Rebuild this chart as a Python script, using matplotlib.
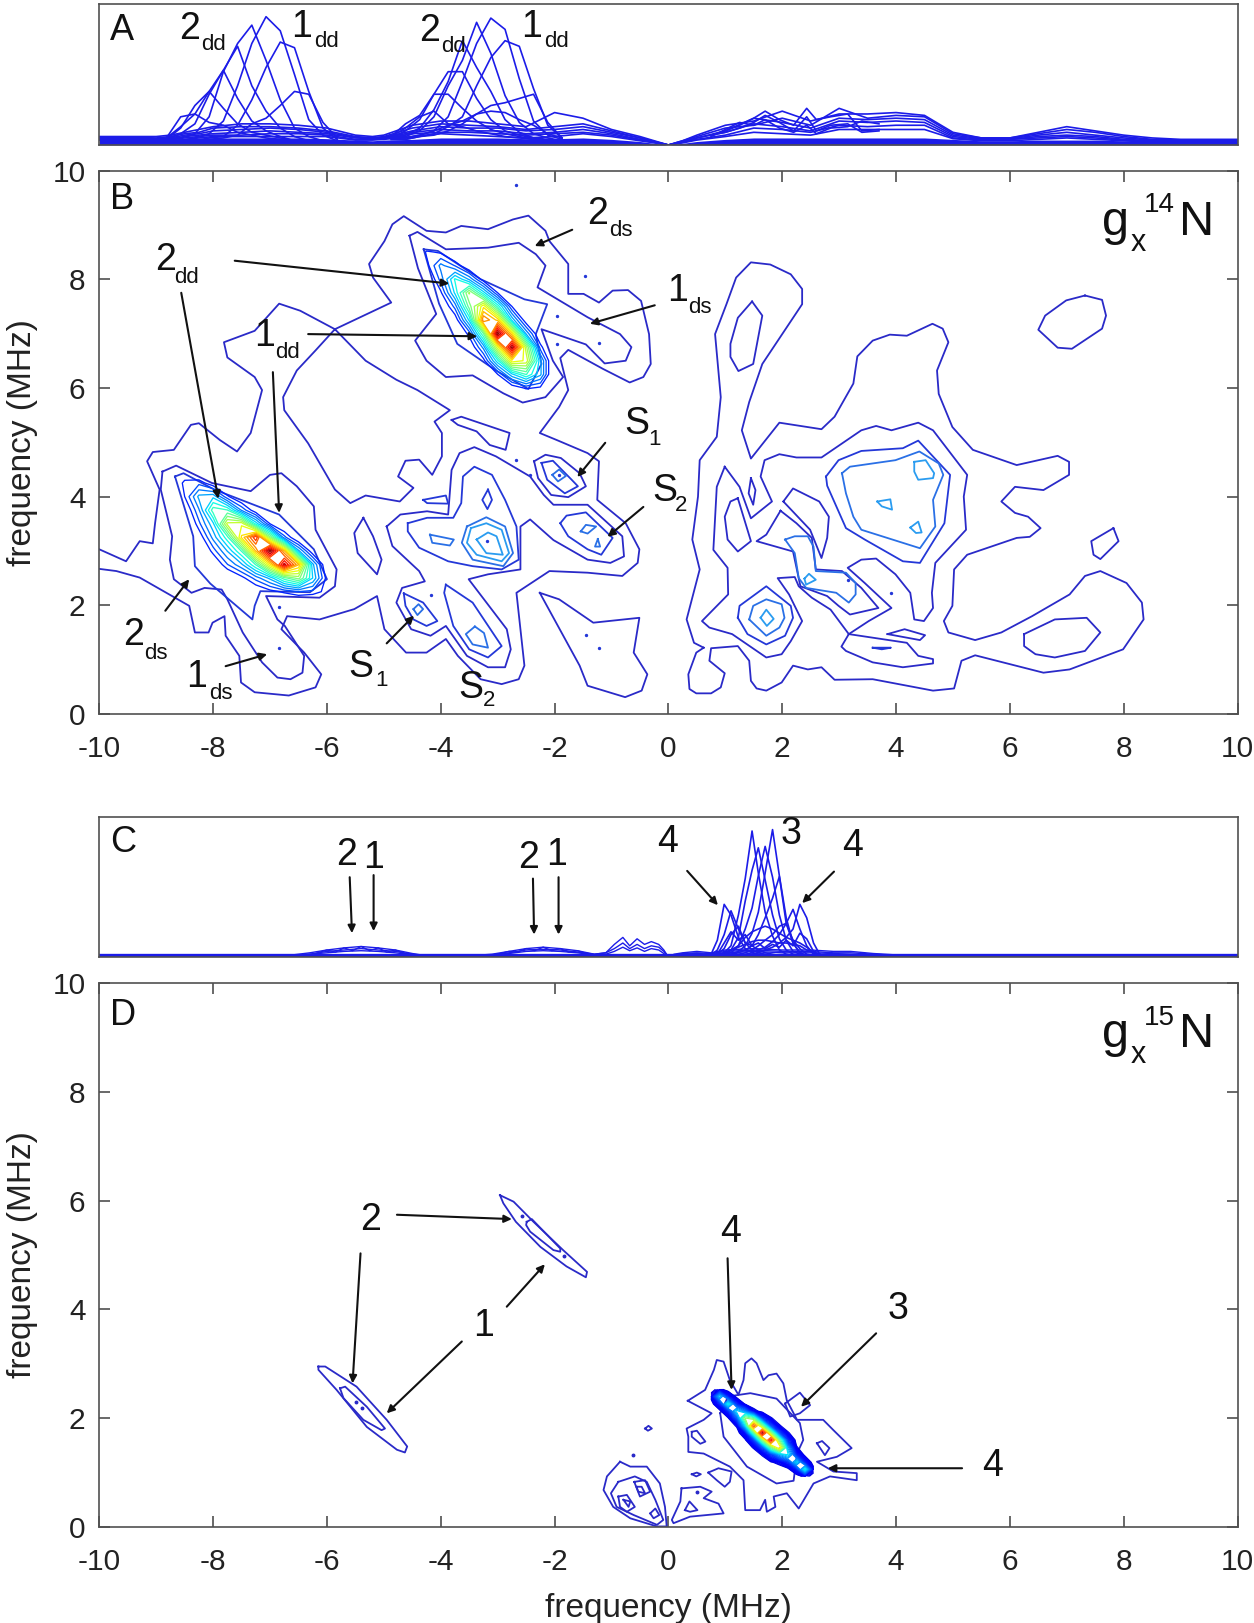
import matplotlib
matplotlib.use("Agg")
import matplotlib.pyplot as plt
import numpy as np

plt.rcParams['font.family'] = ['Liberation Sans', 'DejaVu Sans']
plt.rcParams['axes.unicode_minus'] = False

LV1 = "#2a2ac8"
LV2 = "#2438d8"
LV3 = "#2a70e6"
LV4 = "#2a9cf0"
LINE_BLUE = "#1c1ce8"

### PANEL A : projection lines (x in MHz, arbitrary height) ###

xa_peak1 = [-8.82, -8.57, -8.32, -8.07, -7.82, -7.57, -7.32, -7.07, -6.82, -6.57, -6.32, -6.07, -5.82]
a_peak1 = [
    [0.03, 0.03, 0.05, 0.08, 0.17, 0.42, 0.72, 0.91, 0.81, 0.50, 0.18, 0.07, 0.03],
    [0.03, 0.05, 0.08, 0.20, 0.52, 0.72, 0.85, 0.60, 0.32, 0.12, 0.06, 0.03, 0.02],
    [0.04, 0.08, 0.15, 0.36, 0.53, 0.70, 0.42, 0.24, 0.12, 0.06, 0.03, 0.02, 0.02],
    [0.04, 0.12, 0.28, 0.38, 0.53, 0.33, 0.17, 0.10, 0.06, 0.03, 0.03, 0.02, 0.02],
    [0.05, 0.20, 0.22, 0.38, 0.26, 0.15, 0.09, 0.07, 0.05, 0.03, 0.02, 0.02, 0.02],
    [0.05, 0.13, 0.22, 0.16, 0.14, 0.09, 0.07, 0.05, 0.04, 0.03, 0.02, 0.02, 0.02],
    [0.02, 0.02, 0.03, 0.05, 0.06, 0.14, 0.32, 0.55, 0.73, 0.69, 0.38, 0.12, 0.04],
    [0.02, 0.02, 0.03, 0.04, 0.05, 0.07, 0.15, 0.19, 0.28, 0.38, 0.36, 0.16, 0.05],
]

xa_peak2 = [-4.87, -4.62, -4.37, -4.12, -3.87, -3.62, -3.37, -3.12, -2.87, -2.62, -2.37, -2.12, -1.87]
a_peak2 = [
    [0.05, 0.05, 0.07, 0.10, 0.20, 0.45, 0.72, 0.90, 0.82, 0.47, 0.17, 0.07, 0.04],
    [0.05, 0.06, 0.10, 0.20, 0.42, 0.60, 0.87, 0.65, 0.35, 0.16, 0.08, 0.05, 0.03],
    [0.05, 0.07, 0.12, 0.25, 0.45, 0.74, 0.55, 0.38, 0.18, 0.09, 0.05, 0.04, 0.03],
    [0.05, 0.10, 0.18, 0.36, 0.52, 0.52, 0.33, 0.18, 0.10, 0.07, 0.05, 0.03, 0.03],
    [0.06, 0.15, 0.21, 0.36, 0.36, 0.26, 0.17, 0.11, 0.08, 0.06, 0.04, 0.03, 0.03],
    [0.06, 0.12, 0.20, 0.24, 0.15, 0.13, 0.10, 0.08, 0.06, 0.05, 0.04, 0.03, 0.03],
    [0.04, 0.04, 0.06, 0.08, 0.13, 0.20, 0.42, 0.62, 0.74, 0.70, 0.40, 0.14, 0.05],
    [0.04, 0.04, 0.06, 0.07, 0.10, 0.15, 0.22, 0.28, 0.30, 0.33, 0.36, 0.16, 0.05],
    [0.05, 0.05, 0.07, 0.10, 0.14, 0.17, 0.22, 0.24, 0.23, 0.18, 0.14, 0.08, 0.05],
]

xa_low = [-10, -9.5, -9, -8.75, -8.5, -8.25, -8, -7.5, -7, -6.5, -6, -5.5, -5.2, -5, -4.5, -4, -3.5, -3, -2.5,
          -2, -1.5, -1, -0.5, -0.25, 0, 0.25, 0.5, 1, 1.5, 2, 2.5, 3, 3.5, 4, 4.5, 5, 5.5, 6, 6.5, 7, 7.5, 8, 8.5, 9, 10]
a_low = [
    [.06, .06, .06, .07, .09, .11, .13, .15, .15, .14, .12, .07, .06, .07, .14, .17, .17, .15, .13, .23, .19, .11, .06, .03, .00, .03, .07, .14, .17, .24, .17, .22, .22, .23, .21, .09, .05, .05, .09, .13, .10, .07, .05, .04, .04],
    [.055, .055, .05, .06, .08, .09, .12, .13, .13, .12, .10, .06, .05, .06, .12, .15, .14, .13, .11, .13, .15, .10, .05, .025, .00, .03, .06, .12, .14, .19, .14, .26, .19, .21, .20, .08, .05, .05, .08, .11, .09, .06, .04, .035, .035],
    [.05, .05, .045, .05, .07, .08, .10, .11, .12, .11, .09, .055, .05, .055, .10, .13, .12, .12, .10, .11, .13, .09, .05, .025, .00, .025, .05, .10, .19, .16, .12, .19, .18, .19, .18, .07, .045, .045, .07, .09, .07, .05, .035, .03, .03],
    [.045, .045, .04, .045, .06, .07, .08, .09, .10, .09, .08, .05, .045, .05, .09, .11, .10, .10, .08, .09, .11, .08, .04, .02, .00, .02, .05, .09, .15, .13, .10, .17, .16, .17, .16, .06, .04, .04, .06, .07, .06, .04, .03, .025, .025],
    [.04, .04, .035, .04, .05, .06, .07, .07, .08, .08, .07, .04, .04, .045, .08, .09, .09, .08, .07, .08, .09, .07, .035, .02, .00, .02, .04, .07, .12, .11, .09, .14, .13, .14, .14, .05, .035, .04, .05, .06, .05, .035, .025, .02, .02],
    [.035, .035, .03, .03, .04, .05, .06, .06, .06, .06, .06, .035, .035, .04, .06, .08, .07, .06, .05, .06, .08, .06, .03, .015, .00, .015, .035, .06, .09, .08, .07, .11, .11, .11, .11, .045, .03, .03, .04, .05, .04, .03, .02, .02, .02],
]
a_base = [.05, .05, .045, .045, .045, .05, .05, .05, .05, .05, .045, .035, .03, .035, .04, .05, .05, .05, .045, .045, .05, .04, .025, .012, .00, .012, .025, .04, .05, .05, .05, .05, .05, .05, .05, .04, .03, .03, .035, .035, .035, .03, .03, .03, .03]

xa_jag = [0.75, 1, 1.25, 1.5, 1.7, 1.95, 2.2, 2.43, 2.6, 2.85, 3.15, 3.4, 3.7]
a_jag = [
    [0.07, 0.10, 0.14, 0.19, 0.24, 0.18, 0.14, 0.26, 0.18, 0.20, 0.22, 0.10, 0.11],
    [0.07, 0.09, 0.12, 0.16, 0.21, 0.16, 0.10, 0.20, 0.10, 0.14, 0.15, 0.09, 0.10],
    [0.06, 0.11, 0.16, 0.14, 0.18, 0.12, 0.09, 0.14, 0.08, 0.12, 0.13, 0.17, 0.15],
]

### PANEL C : projection lines ###

xc_peak = [0.74, 0.86, 0.98, 1.10, 1.23, 1.35, 1.47, 1.58, 1.70, 1.83, 1.95, 2.07, 2.19, 2.31, 2.43, 2.55, 2.67]
c_peak = [
    [0.01, 0.12, 0.376, 0.30, 0.14, 0.06, 0.03, 0.02, 0.01, 0.01, 0.01, 0.01, 0.01, 0.01, 0.01, 0.01, 0.01],
    [0.01, 0.05, 0.16, 0.33, 0.20, 0.10, 0.05, 0.03, 0.02, 0.01, 0.01, 0.01, 0.01, 0.01, 0.01, 0.01, 0.01],
    [0.01, 0.02, 0.06, 0.16, 0.22, 0.10, 0.08, 0.05, 0.03, 0.02, 0.01, 0.01, 0.01, 0.01, 0.01, 0.01, 0.01],
    [0.01, 0.01, 0.03, 0.08, 0.30, 0.56, 0.90, 0.60, 0.32, 0.15, 0.05, 0.02, 0.01, 0.01, 0.01, 0.01, 0.01],
    [0.01, 0.01, 0.02, 0.05, 0.14, 0.40, 0.62, 0.78, 0.55, 0.30, 0.13, 0.05, 0.02, 0.01, 0.01, 0.01, 0.01],
    [0.01, 0.01, 0.02, 0.03, 0.08, 0.20, 0.35, 0.58, 0.79, 0.57, 0.30, 0.12, 0.04, 0.02, 0.01, 0.01, 0.01],
    [0.01, 0.01, 0.01, 0.02, 0.04, 0.08, 0.17, 0.32, 0.60, 0.91, 0.58, 0.28, 0.10, 0.03, 0.01, 0.01, 0.01],
    [0.01, 0.01, 0.01, 0.02, 0.03, 0.05, 0.08, 0.16, 0.28, 0.42, 0.575, 0.24, 0.10, 0.03, 0.01, 0.01, 0.01],
    [0.01, 0.01, 0.01, 0.01, 0.02, 0.03, 0.05, 0.08, 0.12, 0.16, 0.22, 0.24, 0.12, 0.06, 0.02, 0.01, 0.01],
    [0.01, 0.01, 0.01, 0.01, 0.01, 0.02, 0.03, 0.05, 0.07, 0.11, 0.16, 0.24, 0.34, 0.20, 0.08, 0.02, 0.01],
    [0.01, 0.01, 0.01, 0.01, 0.01, 0.01, 0.02, 0.03, 0.05, 0.07, 0.10, 0.14, 0.20, 0.376, 0.28, 0.10, 0.01],
    [0.01, 0.01, 0.02, 0.05, 0.08, 0.14, 0.18, 0.20, 0.22, 0.20, 0.17, 0.14, 0.12, 0.10, 0.07, 0.03, 0.01],
    [0.01, 0.02, 0.03, 0.05, 0.07, 0.09, 0.11, 0.12, 0.12, 0.11, 0.10, 0.10, 0.09, 0.08, 0.05, 0.03, 0.02],
    [0.01, 0.02, 0.10, 0.18, 0.12, 0.16, 0.08, 0.10, 0.06, 0.09, 0.07, 0.12, 0.08, 0.17, 0.13, 0.04, 0.01],
]

xc_low = [-10, -7, -6.6, -6.3, -6, -5.7, -5.4, -5.1, -4.8, -4.5, -4.3, -4, -3.5, -3.1, -2.8, -2.5, -2.2, -1.9, -1.6, -1.3,
          -1.1, -0.95, -0.8, -0.68, -0.55, -0.42, -0.3, -0.17, -0.08, 0, 0.1, 0.25, 0.5, 0.75, 1, 1.5, 2, 2.5, 2.9, 3.2, 3.6, 4, 10]
c_low = [
    [.008, .008, .015, .03, .05, .065, .075, .065, .05, .025, .012, .008, .008, .02, .04, .06, .07, .06, .045, .02, .03, .09, .14, .08, .13, .09, .11, .09, .05, .0, .02, .03, .04, .03, .05, .06, .05, .05, .04, .04, .025, .015, .008],
    [.008, .008, .012, .02, .04, .05, .06, .05, .04, .02, .012, .008, .008, .015, .03, .05, .055, .05, .035, .02, .03, .06, .10, .06, .09, .06, .08, .07, .04, .0, .015, .025, .03, .025, .04, .05, .04, .04, .03, .03, .02, .012, .008],
    [.006, .006, .01, .02, .03, .04, .045, .04, .03, .015, .01, .006, .006, .012, .025, .04, .045, .04, .03, .015, .02, .04, .07, .045, .065, .04, .06, .05, .025, .0, .012, .02, .025, .02, .03, .04, .03, .03, .025, .02, .015, .01, .006],
]
xc_zig1 = [-6.2, -6.0, -5.85, -5.7, -5.55, -5.4, -5.25, -5.1, -4.95, -4.8, -4.6]
c_zig1 = [.025, .05, .035, .065, .045, .075, .045, .065, .035, .05, .02]
xc_zig2 = [-3.0, -2.8, -2.65, -2.5, -2.35, -2.2, -2.05, -1.9, -1.75, -1.6, -1.4]
c_zig2 = [.02, .04, .035, .06, .045, .07, .045, .06, .035, .045, .02]

### PANEL B : typed matrices around the two strong peaks ###

xb_left = [-9, -8.75, -8.5, -8.25, -8, -7.75, -7.5, -7.25, -7, -6.75, -6.5, -6.25, -6, -5.75, -5.5]
yb_left = [4.75, 4.5, 4.25, 4.0, 3.75, 3.5, 3.25, 3.0, 2.75, 2.5, 2.25, 2.0, 1.75]
zb_left = [
    [0, 0, .01, 0, 0, 0, 0, 0, 0, 0, 0, 0, 0, 0, 0],
    [0, .03, .08, .06, .03, .01, 0, 0, 0, 0, 0, 0, 0, 0, 0],
    [0, .06, .18, .19, .12, .06, .03, .02, .01, 0, 0, 0, 0, 0, 0],
    [0, .03, .16, .30, .32, .17, .09, .05, .03, .02, .01, 0, 0, 0, 0],
    [0, .01, .10, .24, .44, .42, .24, .12, .07, .04, .02, .01, 0, 0, 0],
    [0, 0, .05, .19, .32, .60, .62, .36, .16, .08, .04, .02, .01, 0, 0],
    [0, 0, .03, .12, .26, .40, .68, .88, .52, .22, .09, .04, .02, .01, 0],
    [0, 0, .01, .06, .18, .29, .42, .72, 1.0, .72, .30, .12, .05, .02, .01],
    [0, 0, 0, .03, .09, .20, .28, .42, .66, .95, .72, .30, .10, .03, .01],
    [0, 0, 0, .01, .04, .08, .14, .22, .30, .44, .52, .33, .14, .03, .01],
    [0, 0, 0, 0, .01, .03, .06, .10, .14, .17, .20, .19, .14, .05, .01],
    [0, 0, 0, 0, 0, .01, .02, .03, .04, .05, .05, .04, .02, 0, 0],
    [0, 0, 0, 0, 0, 0, 0, 0, 0, 0, 0, 0, 0, 0, 0],
]

xb_top = [-4.75, -4.5, -4.25, -4, -3.75, -3.5, -3.25, -3, -2.75, -2.5, -2.25, -2, -1.75]
yb_top = [8.75, 8.5, 8.25, 8.0, 7.75, 7.5, 7.25, 7.0, 6.75, 6.5, 6.25, 6.0, 5.75]
zb_top = [
    [0, .01, .03, .02, 0, 0, 0, 0, 0, 0, 0, 0, 0],
    [0, .04, .17, .15, .07, .03, .01, 0, 0, 0, 0, 0, 0],
    [0, .03, .14, .26, .20, .10, .05, .02, .01, 0, 0, 0, 0],
    [0, .01, .08, .22, .38, .28, .13, .06, .03, .01, 0, 0, 0],
    [0, 0, .04, .15, .34, .55, .35, .16, .07, .03, .01, 0, 0],
    [0, 0, .02, .08, .22, .48, .66, .40, .16, .06, .02, .01, 0],
    [0, 0, .01, .03, .12, .34, .80, .70, .32, .12, .04, .01, 0],
    [0, 0, 0, .02, .06, .18, .46, 1.0, .68, .28, .09, .02, .01],
    [0, 0, 0, .01, .03, .10, .26, .62, .98, .56, .18, .04, .01],
    [0, 0, 0, 0, .02, .05, .14, .36, .66, .62, .30, .06, .01],
    [0, 0, 0, 0, .01, .02, .06, .16, .32, .42, .30, .06, .01],
    [0, 0, 0, 0, 0, .01, .02, .06, .12, .17, .15, .03, 0],
    [0, 0, 0, 0, 0, 0, 0, .01, .02, .03, .02, 0, 0],
]

xd_peak = [0.75, 0.9, 1.05, 1.2, 1.35, 1.5, 1.65, 1.8, 1.95, 2.1, 2.25, 2.4, 2.55]
yd_peak = [2.53, 2.40, 2.26, 2.13, 2.0, 1.86, 1.73, 1.60, 1.46, 1.33, 1.19, 1.06, 0.93]
zd_peak = [
    [.02, .05, .01, 0, 0, 0, 0, 0, 0, 0, 0, 0, 0],
    [.05, .28, .10, .02, .01, 0, 0, 0, 0, 0, 0, 0, 0],
    [.01, .10, .34, .11, .03, .01, 0, 0, 0, 0, 0, 0, 0],
    [0, .02, .11, .30, .20, .05, .02, .005, 0, 0, 0, 0, 0],
    [0, .01, .03, .16, .50, .42, .12, .04, .012, 0, 0, 0, 0],
    [0, 0, .01, .04, .30, .85, .48, .14, .04, .012, 0, 0, 0],
    [0, 0, 0, .015, .08, .42, 1.0, .50, .14, .04, .01, 0, 0],
    [0, 0, 0, .005, .03, .13, .48, .95, .44, .11, .02, .005, 0],
    [0, 0, 0, 0, .01, .04, .14, .44, .70, .24, .04, .01, 0],
    [0, 0, 0, 0, 0, .01, .04, .12, .24, .32, .11, .02, 0],
    [0, 0, 0, 0, 0, 0, .01, .03, .05, .11, .30, .10, .01],
    [0, 0, 0, 0, 0, 0, 0, .005, .01, .02, .10, .34, .05],
    [0, 0, 0, 0, 0, 0, 0, 0, 0, 0, .01, .05, .02],
]

### PANEL B : contour outlines ###

b_big = [(-10, 3.03), (-9.53, 2.81), (-9.29, 3.18), (-9.06, 3.14), (-9.02, 3.51), (-8.94, 4.13), (-9.16, 4.65), (-9.06, 4.82),
         (-8.69, 4.86), (-8.39, 5.32), (-8.25, 5.35), (-7.88, 5.04), (-7.58, 4.83), (-7.34, 5.17), (-7.14, 5.96), (-7.27, 6.2),
         (-7.75, 6.56), (-7.81, 6.84), (-7.27, 7.05), (-6.84, 7.55), (-6.47, 7.42), (-5.86, 7.08), (-6.2, 6.69), (-6.53, 6.32),
         (-6.77, 5.83), (-6.75, 5.59), (-6.33, 4.98), (-5.86, 4.13), (-5.59, 3.88), (-5.32, 4.02), (-4.72, 3.91), (-4.48, 4.16),
         (-4.75, 4.37), (-4.62, 4.66), (-4.38, 4.68), (-4.15, 4.4), (-3.98, 4.74), (-3.98, 5.17), (-4.11, 5.38), (-3.84, 5.59),
         (-4.41, 5.96), (-4.78, 6.15), (-5.32, 6.5), (-5.86, 7.08), (-4.87, 7.57), (-5.19, 8.03), (-5.26, 8.28), (-4.99, 8.7),
         (-4.85, 9.01), (-4.65, 9.16), (-4.25, 8.89), (-3.91, 8.86), (-3.64, 8.98), (-3.17, 8.92), (-2.73, 9.1), (-2.46, 9.17),
         (-2.16, 8.89), (-2.09, 8.7), (-1.76, 8.28), (-1.76, 7.73), (-1.49, 7.73), (-1.22, 7.57), (-0.98, 7.79), (-0.71, 7.8),
         (-0.48, 7.6), (-0.34, 6.99), (-0.31, 6.44), (-0.44, 6.2), (-0.68, 6.1), (-1.15, 6.35), (-1.76, 6.7), (-1.9, 6.55),
         (-1.76, 5.96), (-1.92, 5.65), (-2.26, 5.17), (-1.96, 5.04), (-1.42, 4.8), (-1.22, 4.65), (-1.25, 3.94), (-0.75, 3.51),
         (-0.51, 3.03), (-0.54, 2.78), (-0.81, 2.54), (-1.42, 2.6), (-2.09, 2.63), (-2.67, 2.23), (-2.6, 1.56), (-2.53, 0.89),
         (-2.63, 0.64), (-2.93, 0.55), (-3.3, 0.64), (-3.7, 1.07), (-3.91, 1.38), (-4.25, 1.13), (-4.61, 1.13), (-4.99, 1.56),
         (-5.12, 2.17), (-5.52, 1.93), (-6.13, 1.74), (-6.7, 1.8), (-6.8, 1.56), (-6.4, 1.13), (-6.1, 0.73), (-6.2, 0.49),
         (-6.67, 0.34), (-7.27, 0.4), (-7.51, 0.58), (-7.54, 1.07), (-7.78, 1.44), (-7.8, 1.8), (-8.01, 1.68), (-8.08, 1.5),
         (-8.32, 1.5), (-8.42, 1.99), (-9.29, 2.51), (-9.7, 2.63), (-10, 2.67)]

b_lv1 = [
    [(-4.55, 8.8), (-4.41, 8.87), (-3.91, 8.55), (-3.17, 8.58), (-2.63, 8.67), (-2.33, 8.46), (-2.16, 8.25), (-2.3, 7.85),
     (-1.42, 7.3), (-0.85, 6.99), (-0.65, 6.75), (-0.75, 6.5), (-1.12, 6.45), (-1.45, 6.8), (-2.23, 7.08), (-2.03, 6.5),
     (-1.85, 6.2), (-2.16, 5.83), (-2.56, 5.73), (-2.9, 5.9), (-3.44, 6.23), (-3.91, 6.2), (-4.25, 6.5), (-4.45, 6.87),
     (-4.08, 7.36), (-4.4, 8.2), (-4.55, 8.8)],
    [(-8.89, 4.46), (-8.65, 4.57), (-8.02, 4.25), (-7.34, 4.1), (-7.0, 4.4), (-6.8, 4.43), (-6.53, 4.19), (-6.23, 3.82),
     (-6.2, 3.39), (-5.83, 2.66), (-5.86, 2.35), (-6.13, 2.14), (-7.07, 2.17), (-6.87, 1.74), (-6.74, 1.62), (-6.4, 1.07),
     (-6.43, 0.76), (-6.64, 0.64), (-6.87, 0.67), (-7.14, 0.95), (-7.48, 1.5), (-7.75, 2.11), (-7.85, 2.29), (-8.15, 2.32),
     (-8.38, 2.23), (-8.69, 2.48), (-8.76, 2.84), (-8.72, 3.27), (-8.92, 4.13), (-8.89, 4.46)],
    [(-4.95, 3.45), (-4.71, 3.67), (-4.24, 3.73), (-3.87, 3.67), (-3.81, 4.49), (-3.67, 4.8), (-3.41, 4.91), (-3.03, 4.74),
     (-2.43, 4.37), (-2.19, 4.03), (-2.02, 3.85), (-1.42, 3.85), (-0.81, 3.27), (-0.78, 2.9), (-1.02, 2.78), (-1.42, 2.84),
     (-2.02, 3.2), (-2.43, 3.58), (-2.6, 3.45), (-2.6, 2.66), (-3.17, 2.57), (-3.51, 2.48), (-2.84, 1.56), (-2.77, 1.19),
     (-2.87, 0.86), (-3.17, 0.86), (-3.54, 1.07), (-3.91, 1.62), (-4.18, 1.44), (-4.52, 1.56), (-4.78, 2.05), (-4.68, 2.32),
     (-4.28, 2.44), (-4.38, 2.63), (-4.85, 3.09), (-4.95, 3.45)],
    [(-3.81, 5.41), (-3.64, 5.47), (-2.79, 5.17), (-2.86, 4.86), (-3.14, 4.95), (-3.37, 5.2), (-3.7, 5.32), (-3.81, 5.41)],
    [(-5.36, 3.61), (-5.52, 3.33), (-5.46, 2.96), (-5.12, 2.57), (-5.04, 2.84), (-5.19, 3.27), (-5.36, 3.61)],
    [(-2.36, 4.65), (-2.16, 4.77), (-1.89, 4.71), (-1.56, 4.43), (-1.45, 4.19), (-1.76, 3.99), (-2.06, 4.03), (-2.29, 4.34), (-2.36, 4.65)],
    [(-2.26, 2.23), (-1.92, 2.11), (-1.32, 1.68), (-0.51, 1.77), (-0.61, 1.13), (-0.37, 0.73), (-0.47, 0.43), (-0.76, 0.31),
     (-1.42, 0.52), (-1.56, 0.89), (-2.26, 2.23)],
    # right half
    [(0.62, 1.22), (0.49, 1.13), (0.35, 0.73), (0.37, 0.46), (0.49, 0.38), (0.75, 0.38), (0.92, 0.49), (0.99, 0.75), (0.72, 0.98),
     (0.75, 1.21), (1.22, 1.25), (1.42, 0.98), (1.45, 0.61), (1.55, 0.47), (1.72, 0.43), (1.99, 0.58), (2.19, 0.89), (2.45, 0.82),
     (2.69, 0.86), (2.92, 0.63), (3.59, 0.64), (4.65, 0.43), (5.02, 0.47), (5.15, 0.98), (5.39, 1.08), (6.59, 0.76), (7.05, 0.82),
     (7.99, 1.19), (8.35, 1.74), (8.32, 2.05), (8.05, 2.41), (7.59, 2.63), (7.32, 2.54), (7.05, 2.2), (6.39, 1.8), (5.85, 1.5),
     (5.39, 1.36), (4.92, 1.5), (4.84, 1.71), (4.99, 1.99), (5.02, 2.66), (5.25, 2.93), (6.12, 3.24), (6.35, 3.26), (6.54, 3.42),
     (6.32, 3.63), (6.09, 3.7), (5.85, 3.91), (6.09, 4.18), (6.59, 4.12), (7.04, 4.4), (7.04, 4.64), (6.84, 4.75), (6.12, 4.58),
     (5.35, 4.86), (4.99, 5.28), (4.75, 5.89), (4.72, 6.32), (4.92, 6.84), (4.82, 7.09), (4.64, 7.18), (4.19, 6.96), (3.89, 6.98),
     (3.59, 6.87), (3.32, 6.58), (3.25, 6.08), (2.92, 5.47), (2.69, 5.24), (1.95, 5.36), (1.45, 4.7), (1.29, 5.22), (1.42, 5.74),
     (1.65, 6.44), (2.35, 7.54), (2.35, 7.82), (2.15, 8.09), (1.79, 8.27), (1.45, 8.31), (1.19, 8.03), (1.02, 7.54), (0.82, 6.99),
     (0.92, 5.83), (0.85, 5.1), (0.55, 4.67), (0.52, 4.0), (0.42, 3.21), (0.55, 2.66), (0.32, 1.74), (0.45, 1.31), (0.62, 1.22)],
    [(1.47, 7.59), (1.65, 7.33), (1.49, 6.44), (1.23, 6.31), (1.09, 6.57), (1.09, 6.81), (1.22, 7.29), (1.47, 7.59)],
    [(7.32, 7.7), (7.62, 7.62), (7.69, 7.33), (7.62, 7.09), (7.09, 6.72), (6.84, 6.74), (6.5, 7.07), (6.62, 7.33), (6.99, 7.61), (7.32, 7.7)],
    [(7.82, 3.42), (7.91, 3.18), (7.59, 2.85), (7.47, 2.93), (7.43, 3.18), (7.82, 3.42)],
    [(6.25, 1.47), (6.79, 1.74), (7.35, 1.77), (7.59, 1.5), (7.32, 1.16), (6.79, 1.04), (6.45, 1.1), (6.25, 1.25), (6.25, 1.47)],
    [(0.99, 4.55), (1.25, 4.18), (1.45, 3.6), (1.82, 3.91), (1.62, 4.37), (1.69, 4.67), (1.95, 4.78), (2.25, 4.72), (2.69, 4.72),
     (3.39, 5.22), (3.65, 5.3), (3.92, 5.22), (4.39, 5.36), (4.65, 5.22), (5.25, 4.4), (5.19, 4.0), (5.23, 3.39), (4.69, 2.78),
     (4.63, 2.23), (4.65, 1.95), (4.49, 1.71), (4.32, 1.74), (4.25, 2.23), (3.99, 2.57), (3.65, 2.86), (3.39, 2.84), (3.15, 2.69),
     (3.45, 2.41), (3.92, 1.95), (3.52, 1.71), (3.17, 1.47), (2.85, 1.92), (2.52, 2.14), (2.29, 2.35), (2.22, 2.52), (1.92, 2.5),
     (2.12, 2.2), (2.35, 1.71), (2.15, 1.34), (1.99, 1.1), (1.72, 1.04), (1.12, 1.47), (0.72, 1.59), (0.59, 1.71), (1.05, 2.2),
     (1.04, 2.69), (0.79, 3.02), (0.85, 4.18), (0.99, 4.55)],
    [(3.17, 1.47), (4.19, 1.31), (4.39, 1.07), (4.65, 1.01), (4.65, 0.93), (4.12, 0.86), (3.59, 0.95), (3.12, 1.16), (3.04, 1.24), (3.17, 1.47)],
    [(3.85, 1.47), (4.15, 1.56), (4.51, 1.45), (4.42, 1.36), (3.85, 1.47)],
    [(1.22, 3.97), (1.09, 3.91), (0.99, 3.63), (1.04, 3.21), (1.22, 2.99), (1.45, 3.18), (1.22, 3.97)],
    [(1.45, 4.34), (1.53, 4.12), (1.49, 3.85), (1.41, 4.06), (1.45, 4.34)],
    [(2.02, 3.91), (2.19, 4.15), (2.65, 3.91), (2.82, 3.63), (2.79, 3.24), (2.69, 2.87), (2.49, 3.39), (2.02, 3.91)],
    [(1.97, 3.74), (2.25, 3.51), (2.52, 3.24), (2.59, 2.66), (3.05, 2.63), (3.39, 2.32), (3.69, 1.95), (3.19, 1.83), (2.99, 1.99),
     (2.79, 2.17), (2.32, 2.35), (2.19, 2.99), (1.55, 3.18), (1.72, 3.3), (1.97, 3.74)],
]

b_lv2 = [
    [(-4.3, 8.55), (-4.05, 8.52), (-3.3, 8.0), (-2.53, 7.63), (-2.13, 7.54), (-2.33, 6.99), (-2.23, 6.44), (-2.46, 5.98), (-3.03, 6.32),
     (-3.71, 6.81), (-4.03, 7.55), (-4.3, 8.55)],
    [(-8.67, 4.37), (-8.52, 4.43), (-7.98, 4.13), (-6.84, 3.67), (-6.23, 3.03), (-6.0, 2.48), (-6.3, 2.24), (-7.17, 2.26), (-7.27, 1.99),
     (-7.31, 1.74), (-8.05, 2.4), (-8.32, 2.72), (-8.35, 3.27), (-8.67, 4.37)],
    [(-4.58, 3.51), (-4.24, 3.61), (-3.78, 3.61), (-3.64, 3.88), (-3.61, 4.37), (-3.41, 4.55), (-3.1, 4.4), (-2.87, 3.94), (-2.67, 3.45),
     (-2.63, 2.84), (-2.93, 2.66), (-3.44, 2.72), (-3.87, 2.81), (-4.38, 3.06), (-4.58, 3.36), (-4.58, 3.51)],
    [(-4.31, 3.94), (-3.91, 4.02), (-3.87, 3.87), (-4.24, 3.88), (-4.31, 3.94)],
    [(-3.17, 4.13), (-3.1, 3.94), (-3.18, 3.77), (-3.27, 3.94), (-3.17, 4.13)],
    [(-1.9, 3.51), (-1.79, 3.65), (-1.45, 3.71), (-0.98, 3.24), (-1.18, 2.93), (-1.42, 3.03), (-1.76, 3.27), (-1.9, 3.51)],
    [(-2.23, 4.62), (-2.03, 4.66), (-1.7, 4.31), (-1.59, 4.19), (-1.82, 4.06), (-2.13, 4.31), (-2.23, 4.62)],
    [(-4.65, 2.22), (-4.31, 2.05), (-4.06, 1.71), (-4.25, 1.62), (-4.48, 1.74), (-4.62, 1.99), (-4.65, 2.22)],
    [(-3.91, 2.38), (-3.44, 2.05), (-2.93, 1.25), (-3.17, 1.04), (-3.5, 1.19), (-3.78, 1.62), (-3.94, 2.23), (-3.91, 2.38)],
    [(2.77, 4.37), (2.99, 4.67), (3.39, 4.84), (4.12, 4.89), (4.39, 5.03), (4.95, 4.4), (4.85, 3.51), (4.42, 2.78), (4.12, 2.81), (3.45, 3.21),
     (3.12, 3.42), (2.79, 4.2), (2.77, 4.37)],
    [(1.22, 1.77), (1.25, 1.99), (1.72, 2.35), (2.15, 1.99), (2.19, 1.77), (2.05, 1.44), (1.72, 1.28), (1.39, 1.47), (1.22, 1.77)],
    [(3.59, 1.22), (3.91, 1.22), (3.75, 1.19), (3.59, 1.22)],
]

b_lv3 = [
    [(-4.19, 3.3), (-3.77, 3.21), (-3.84, 3.1), (-4.15, 3.15), (-4.19, 3.3)],
    [(-3.54, 3.45), (-3.2, 3.62), (-2.87, 3.45), (-2.73, 2.96), (-2.9, 2.72), (-3.44, 2.84), (-3.63, 3.15), (-3.54, 3.45)],
    [(-1.54, 3.36), (-1.45, 3.48), (-1.27, 3.45), (-1.42, 3.32), (-1.54, 3.36)],
    [(-1.24, 3.22), (-1.2, 3.08), (-1.29, 3.08), (-1.24, 3.22)],
    [(-2.04, 4.4), (-1.92, 4.5), (-1.8, 4.38), (-1.94, 4.28), (-2.04, 4.4)],
    [(-4.48, 1.93), (-4.39, 2.02), (-4.31, 1.93), (-4.41, 1.82), (-4.48, 1.93)],
    [(-3.4, 1.61), (-3.24, 1.49), (-3.17, 1.22), (-3.44, 1.28), (-3.56, 1.47), (-3.4, 1.61)],
    [(3.05, 4.43), (3.19, 4.55), (3.99, 4.67), (4.41, 4.83), (4.75, 4.61), (4.83, 4.4), (4.65, 3.94), (4.69, 3.45), (4.42, 3.05), (3.39, 3.39),
     (3.25, 3.63), (3.12, 4.06), (3.05, 4.43)],
    [(2.05, 3.21), (2.22, 3.27), (2.45, 3.27), (2.55, 3.08), (2.59, 2.63), (3.12, 2.6), (3.29, 2.41), (3.29, 2.2), (3.17, 2.05), (2.95, 2.23),
     (2.42, 2.32), (2.29, 2.5), (2.22, 2.96), (2.05, 3.21)],
    [(1.42, 1.74), (1.49, 1.99), (1.72, 2.11), (1.99, 2.02), (2.04, 1.77), (1.95, 1.59), (1.72, 1.44), (1.42, 1.74)],
]

b_lv4 = [
    [(-3.47, 3.42), (-3.2, 3.51), (-2.93, 3.39), (-2.8, 2.96), (-2.93, 2.81), (-3.37, 2.93), (-3.54, 3.15), (-3.47, 3.42)],
    [(-3.37, 3.21), (-3.17, 3.34), (-3.02, 3.27), (-2.91, 2.93), (-3.2, 2.96), (-3.37, 3.21)],
    [(4.32, 4.64), (4.52, 4.67), (4.67, 4.43), (4.65, 4.34), (4.39, 4.31), (4.32, 4.46), (4.32, 4.64)],
    [(3.67, 3.91), (3.9, 3.95), (3.93, 3.76), (3.75, 3.82), (3.67, 3.91)],
    [(4.25, 3.43), (4.39, 3.54), (4.45, 3.34), (4.35, 3.33), (4.25, 3.43)],
    [(2.39, 2.49), (2.47, 2.58), (2.59, 2.47), (2.42, 2.38), (2.39, 2.49)],
    [(1.62, 1.77), (1.72, 1.92), (1.85, 1.75), (1.73, 1.62), (1.62, 1.77)],
]

xb_dots = [-2.68, -1.96, -1.95, -1.22, -2.68, -2.44, -6.84, -1.47, -6.84, -1.45, -1.22, 3.92, -4.17, -1.92, -3.18, 3.15]
yb_dots = [9.74, 7.33, 6.81, 6.83, 4.68, 4.4, 1.96, 8.06, 1.22, 1.45, 1.22, 2.23, 2.19, 4.4, 3.18, 2.46]

### PANEL D : contour outlines ###

d_lv1 = [
    [(-2.96, 6.10), (-2.72, 5.98), (-2.37, 5.61), (-1.85, 5.09), (-1.43, 4.69), (-1.45, 4.59), (-1.79, 4.79), (-2.25, 5.15), (-2.68, 5.61), (-2.9, 5.95), (-2.96, 6.10)],
    [(-2.49, 5.61), (-2.4, 5.66), (-1.9, 5.12), (-1.9, 5.06), (-2.02, 5.09), (-2.43, 5.43), (-2.5, 5.55), (-2.49, 5.61)],
    [(-6.15, 2.95), (-6.03, 2.95), (-5.48, 2.58), (-4.95, 1.97), (-4.59, 1.48), (-4.63, 1.37), (-4.77, 1.42), (-5.3, 1.84), (-5.83, 2.52), (-6.15, 2.89), (-6.15, 2.95)],
    [(-5.77, 2.55), (-5.68, 2.58), (-5.3, 2.21), (-4.98, 1.81), (-5.04, 1.78), (-5.36, 1.97), (-5.71, 2.37), (-5.77, 2.55)],
    [(0.34, 2.32), (0.645, 2.52), (0.80, 2.89), (0.85, 3.07), (0.97, 3.04), (1.08, 2.70), (1.23, 2.43), (1.32, 2.70), (1.35, 3.01), (1.46, 3.10),
     (1.55, 3.01), (1.67, 2.70), (1.76, 2.79), (1.90, 2.82), (2.02, 2.64), (2.08, 2.33), (2.26, 1.97), (2.72, 1.97), (2.90, 1.78), (3.22, 1.45),
     (2.96, 1.29), (2.61, 1.20), (2.90, 1.02), (3.31, 0.99), (3.31, 0.86), (2.84, 0.93), (2.55, 0.80), (2.29, 0.34), (2.08, 0.62), (1.85, 0.56),
     (1.88, 0.37), (1.73, 0.28), (1.70, 0.50), (1.61, 0.31), (1.35, 0.31), (1.32, 0.86), (1.08, 1.11), (0.62, 1.35), (0.35, 1.38), (0.35, 1.66),
     (0.32, 1.81), (0.62, 1.97), (0.76, 2.09), (0.34, 2.32)],
    [(0.91, 2.09), (0.97, 1.66), (1.38, 1.11), (1.9, 0.8), (2.2, 0.85), (2.26, 1.35), (2.37, 1.6), (2.31, 1.91), (1.90, 2.36), (1.44, 2.46), (1.05, 2.4), (0.91, 2.09)],
    [(0.41, 1.75), (0.50, 1.77), (0.65, 1.57), (0.56, 1.53), (0.41, 1.66), (0.41, 1.75)],
    [(2.61, 1.54), (2.70, 1.58), (2.83, 1.45), (2.75, 1.32), (2.61, 1.54)],
    [(2.05, 2.27), (2.31, 2.47), (2.49, 2.24), (2.31, 2.09), (2.14, 2.03), (2.05, 2.27)],
    [(-0.85, 1.2), (-0.67, 1.11), (-0.38, 1.11), (-0.15, 0.80), (-0.06, 0.37), (-0.03, 0.01), (-0.2, 0.01), (-0.67, 0.16), (-0.97, 0.37), (-1.14, 0.68), (-1.08, 0.93), (-0.85, 1.2)],
    [(-0.88, 0.83), (-0.59, 0.93), (-0.38, 0.83), (-0.23, 0.5), (-0.09, 0.13), (-0.2, 0.04), (-0.61, 0.22), (-0.91, 0.37), (-1.01, 0.62), (-0.88, 0.83)],
    [(-0.88, 0.56), (-0.73, 0.59), (-0.59, 0.37), (-0.73, 0.28), (-0.85, 0.37), (-0.88, 0.56)],
    [(-0.79, 0.5), (-0.67, 0.47), (-0.7, 0.37), (-0.79, 0.5)],
    [(-0.6, 0.83), (-0.41, 0.86), (-0.32, 0.65), (-0.5, 0.56), (-0.6, 0.83)],
    [(-0.56, 0.74), (-0.47, 0.74), (-0.41, 0.62), (-0.53, 0.65), (-0.56, 0.74)],
    [(-0.32, 0.25), (-0.23, 0.34), (-0.16, 0.22), (-0.26, 0.16), (-0.32, 0.25)],
    [(0.23, 0.71), (0.56, 0.74), (0.76, 0.65), (0.62, 0.53), (0.88, 0.43), (0.97, 0.25), (0.38, 0.19), (0.09, 0.07), (0.06, 0.13), (0.21, 0.47), (0.23, 0.71)],
    [(0.29, 0.31), (0.37, 0.47), (0.51, 0.31), (0.38, 0.28), (0.29, 0.31)],
    [(0.41, 0.97), (0.5, 1.0), (0.57, 0.97), (0.49, 0.93), (0.41, 0.97)],
    [(0.70, 1.0), (0.88, 1.08), (1.11, 1.02), (1.08, 0.83), (0.99, 0.74), (0.85, 0.86), (0.70, 1.0)],
    [(-0.41, 1.81), (-0.35, 1.86), (-0.29, 1.81), (-0.36, 1.77), (-0.41, 1.81)],
]
xd_dots = [-2.57, -1.83, -5.49, -5.38, -0.63, 0.5]
yd_dots = [5.72, 4.99, 2.3, 2.18, 1.32, 0.65]

### LABELS ###

# (text, x, y, size)
a_labels = [("A", -9.6, .81, 26), ("2", -8.42, .82, 27), ("dd", -8.0, .71, 16), ("1", -6.45, .84, 27), ("dd", -6.0, .735, 16),
            ("2", -4.2, .81, 27), ("dd", -3.78, .70, 16), ("1", -2.4, .84, 27), ("dd", -1.96, .735, 16)]
c_labels = [("C", -9.58, .82, 26), ("2", -5.65, .73, 27), ("1", -5.18, .71, 27), ("2", -2.45, .71, 27), ("1", -1.96, .73, 27),
            ("4", -0.02, .82, 27), ("3", 2.16, .88, 27), ("4", 3.24, .79, 27)]
b_labels = [("B", -9.6, 9.47, 26), ("2", -8.84, 8.36, 27), ("dd", -8.47, 8.04, 16), ("1", -7.09, 6.95, 27), ("dd", -6.69, 6.66, 16),
            ("2", -1.24, 9.2, 27), ("ds", -0.84, 8.89, 16), ("1", 0.16, 7.79, 27), ("ds", 0.56, 7.48, 16),
            ("S", -0.56, 5.33, 27), ("1", -0.25, 5.05, 16), ("S", -0.07, 4.11, 27), ("2", 0.22, 3.83, 16),
            ("2", -9.4, 1.45, 27), ("ds", -9.0, 1.12, 16), ("1", -8.29, 0.68, 27), ("ds", -7.87, 0.38, 16),
            ("S", -5.4, 0.87, 27), ("1", -5.05, 0.61, 16), ("S", -3.47, 0.47, 27), ("2", -3.15, 0.25, 16),
            ("g", 7.85, 9.05, 35), ("x", 8.25, 8.67, 22), ("14", 8.62, 9.36, 20), ("N", 9.28, 9.05, 35)]
d_labels = [("D", -9.58, 9.41, 26), ("2", -5.24, 5.64, 27), ("1", -3.24, 3.69, 27), ("4", 1.09, 5.42, 27), ("3", 4.04, 4.01, 27),
            ("4", 5.69, 1.12, 27), ("g", 7.85, 9.05, 35), ("x", 8.25, 8.67, 22), ("15", 8.62, 9.36, 20), ("N", 9.28, 9.05, 35)]

# (x0, y0, x1, y1)
c_arrows = [(-5.6, .57, -5.56, .17), (-5.18, .585, -5.18, .185), (-2.38, .56, -2.36, .16), (-1.93, .57, -1.93, .16),
            (0.33, .615, 0.87, .37), (2.91, .61, 2.35, .385)]
b_arrows = [(-7.62, 8.34, -3.85, 7.92), (-8.56, 7.75, -7.91, 3.96), (-6.95, 6.29, -6.84, 3.7), (-6.33, 6.99, -3.36, 6.95),
            (-1.69, 8.91, -2.35, 8.61), (-0.24, 7.52, -1.38, 7.18), (-1.11, 4.99, -1.6, 4.36), (-0.44, 3.81, -1.07, 3.26),
            (-8.84, 1.9, -8.42, 2.48), (-7.78, 0.88, -7.05, 1.1), (-4.95, 1.3, -4.47, 1.81)]
d_arrows = [(-4.77, 5.74, -2.75, 5.66), (-5.41, 5.03, -5.55, 2.64), (-2.84, 4.05, -2.17, 4.83), (-3.63, 3.41, -4.95, 2.09),
            (1.04, 4.94, 1.11, 2.52), (3.65, 3.56, 2.33, 2.21), (5.16, 1.08, 2.8, 1.08)]

W, H = 1254, 1623
AX_LEFT, AX_RIGHT = 99.3, 1237.5


def make_axes(fig, top, bottom):
    ax = fig.add_axes([AX_LEFT / W, 1 - bottom / H, (AX_RIGHT - AX_LEFT) / W, (bottom - top) / H])
    ax.set_xlim(-10, 10)
    for s in ax.spines.values():
        s.set_color("#505050")
        s.set_linewidth(1.2)
    return ax


def style_2d(ax):
    ax.set_ylim(0, 10)
    ax.set_xticks(np.arange(-10, 11, 2))
    ax.set_yticks(np.arange(0, 11, 2))
    ax.tick_params(direction="in", length=8, width=1.1, color="#404040", labelsize=21.5, top=True, right=True,
                   labelcolor="#222222")
    ax.tick_params(axis="x", pad=15)
    ax.tick_params(axis="y", pad=10)
    ax.set_ylabel("frequency (MHz)", fontsize=24, color="#222222", labelpad=10)


def draw_paths(ax, paths, color, lw=1.3):
    for p in paths:
        xs, ys = zip(*p)
        ax.plot(xs, ys, color=color, lw=lw, solid_joinstyle="round")


def draw_peak(ax, xs, ys, z, levels, lw=0.95, vmin=0):
    # rows are typed top down, contour wants y going up
    ax.contour(xs, ys[::-1], np.array(z)[::-1], levels=levels, cmap="jet", vmin=vmin, vmax=1, linewidths=lw)


def draw_labels(ax, labels):
    for t, x, y, s in labels:
        ax.text(x, y, t, fontsize=s, ha="center", va="center", color="#111111", zorder=6)


def draw_arrows(ax, arrows):
    for x0, y0, x1, y1 in arrows:
        ax.annotate("", xy=(x1, y1), xytext=(x0, y0), zorder=5,
                    arrowprops=dict(arrowstyle="-|>,head_width=0.22,head_length=0.45", color="#111111", lw=1.5,
                                    shrinkA=0, shrinkB=0))


fig = plt.figure(figsize=(W / 100, H / 100), dpi=100)

# panel A
ax_a = make_axes(fig, 4, 145)
ax_a.set_ylim(0, 1)
ax_a.set_xticks([])
ax_a.set_yticks([])
for row in a_peak1:
    ax_a.plot(xa_peak1, row, color=LINE_BLUE, lw=1.2)
for row in a_peak2:
    ax_a.plot(xa_peak2, row, color=LINE_BLUE, lw=1.2)
for row in a_low:
    ax_a.plot(xa_low, row, color=LINE_BLUE, lw=1.2)
for row in a_jag:
    ax_a.plot(xa_jag, row, color=LINE_BLUE, lw=1.2)
ax_a.fill_between(xa_low, 0, a_base, color=LINE_BLUE, lw=0)
draw_labels(ax_a, a_labels)

# panel B
ax_b = make_axes(fig, 170.5, 714)
style_2d(ax_b)
ax_b.plot(*zip(*b_big), color=LV1, lw=1.3)
draw_paths(ax_b, b_lv1, LV1)
draw_paths(ax_b, b_lv2, LV2)
draw_paths(ax_b, b_lv3, LV3)
draw_paths(ax_b, b_lv4, LV4)
ax_b.plot(xb_dots, yb_dots, ls="none", marker="o", ms=1.4, color=LV2)
peak_levels = np.linspace(0.16, 0.97, 20)
draw_peak(ax_b, xb_left, yb_left, zb_left, peak_levels)
draw_peak(ax_b, xb_top, yb_top, zb_top, peak_levels)
draw_labels(ax_b, b_labels)
draw_arrows(ax_b, b_arrows)

# panel C
ax_c = make_axes(fig, 817, 957)
ax_c.set_ylim(0, 1)
ax_c.set_xticks([])
ax_c.set_yticks([])
for row in c_peak:
    ax_c.plot(xc_peak, row, color=LINE_BLUE, lw=1.2)
for row in c_low:
    ax_c.plot(xc_low, row, color=LINE_BLUE, lw=1.0)
ax_c.plot(xc_zig1, c_zig1, color=LINE_BLUE, lw=1.0)
ax_c.plot(xc_zig2, c_zig2, color=LINE_BLUE, lw=1.0)
ax_c.plot([-10, 10], [0.012, 0.012], color=LINE_BLUE, lw=2.4)
draw_labels(ax_c, c_labels)
draw_arrows(ax_c, c_arrows)

# panel D
ax_d = make_axes(fig, 983, 1527)
style_2d(ax_d)
ax_d.set_xlabel("frequency (MHz)", fontsize=24, color="#222222", labelpad=12)
draw_paths(ax_d, d_lv1, LV1)
ax_d.plot(xd_dots, yd_dots, ls="none", marker="o", ms=1.8, color=LV1)
draw_peak(ax_d, xd_peak, yd_peak, zd_peak, np.geomspace(0.035, 0.98, 30), lw=0.85, vmin=-0.06)
draw_labels(ax_d, d_labels)
draw_arrows(ax_d, d_arrows)

fig.savefig("out.png", dpi=100)
plt.close(fig)
